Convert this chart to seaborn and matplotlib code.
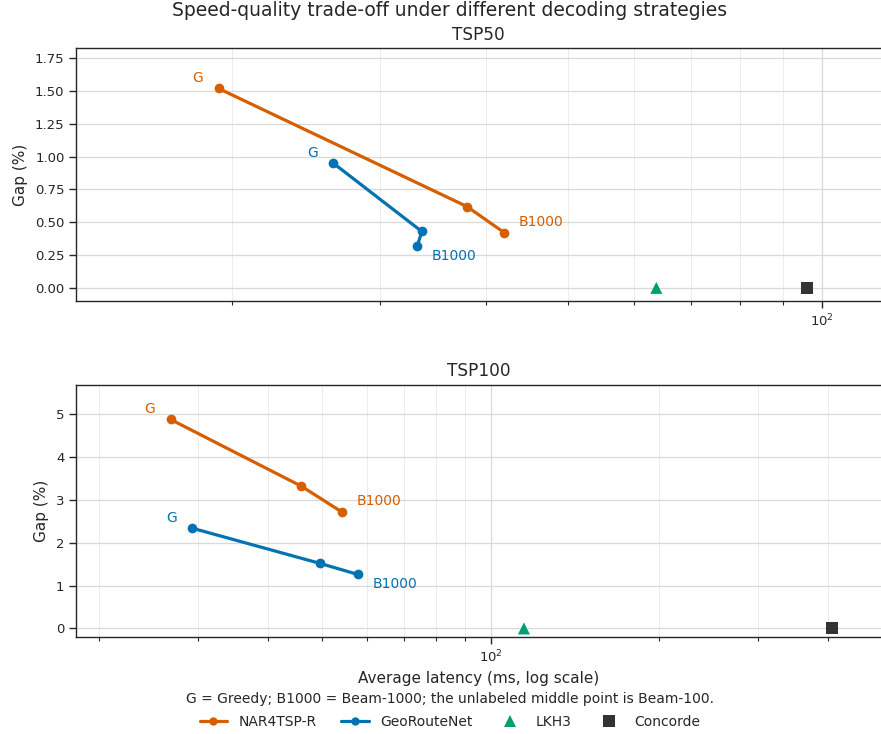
import matplotlib
matplotlib.use('Agg')
import matplotlib.pyplot as plt
import matplotlib.ticker as mticker
from matplotlib.lines import Line2D
import seaborn as sns
import pandas as pd

sns.set_theme(context='paper', style='ticks')
plt.rcParams['font.family'] = ['DejaVu Sans']

# Values (latency in ms, gap in %)
PANELS = ['TSP50', 'TSP100']
DECODES = ['G', 'B100', 'B1000']
MODELS = ['NAR4TSP-R', 'GeoRouteNet']
BASELINES = ['LKH3', 'Concorde']

nar_lat_50 = [19.3, 38.0, 42.1]
nar_gap_50 = [1.52, 0.62, 0.42]
geo_lat_50 = [26.4, 33.6, 33.2]
geo_gap_50 = [0.95, 0.43, 0.32]

nar_lat_100 = [26.8, 45.9, 54.2]
nar_gap_100 = [4.88, 3.32, 2.72]
geo_lat_100 = [29.3, 49.5, 57.9]
geo_gap_100 = [2.34, 1.52, 1.26]

lkh_lat = [63.7, 114.6]        # TSP50, TSP100
concorde_lat = [96.1, 407.0]
exact_gap = [0.0, 0.0]

y_limits = [(-0.1, 1.826), (-0.2, 5.69)]

COLORS = {
    'NAR4TSP-R': '#D55E00',
    'GeoRouteNet': '#0173B2',
    'LKH3': '#029E73',
    'Concorde': '#333333',
}
BASE_MARKERS = {'LKH3': '^', 'Concorde': 's'}

# long-form tables
rows = []
for panel, series in zip(PANELS, [
        {'NAR4TSP-R': (nar_lat_50, nar_gap_50), 'GeoRouteNet': (geo_lat_50, geo_gap_50)},
        {'NAR4TSP-R': (nar_lat_100, nar_gap_100), 'GeoRouteNet': (geo_lat_100, geo_gap_100)}]):
    for model, (lat, gap) in series.items():
        for dec, x, y in zip(DECODES, lat, gap):
            rows.append({'panel': panel, 'model': model, 'decode': dec, 'latency': x, 'gap': y})
curves = pd.DataFrame(rows)

base_rows = []
for i, panel in enumerate(PANELS):
    base_rows.append({'panel': panel, 'method': 'LKH3', 'latency': lkh_lat[i], 'gap': exact_gap[i]})
    base_rows.append({'panel': panel, 'method': 'Concorde', 'latency': concorde_lat[i], 'gap': exact_gap[i]})
baselines = pd.DataFrame(base_rows)

W, H = 881, 734
fig = plt.figure(figsize=(W / 100, H / 100), dpi=100)
ax_boxes = [(76, 48.3, 301), (76, 384.7, 637)]
axes = []
for left, top, bottom in ax_boxes:
    axes.append(fig.add_axes([left / W, 1 - bottom / H, (W + 0.5 - left) / W, (bottom - top) / H]))

for i, (ax, panel) in enumerate(zip(axes, PANELS)):
    sub = curves[curves['panel'] == panel]
    bsub = baselines[baselines['panel'] == panel]

    ax.set_xscale('log')
    ax.grid(True, which='major', color='#d9d9d9', linewidth=0.9)
    ax.grid(True, which='minor', axis='x', color='#ededed', linewidth=0.7)
    ax.set_axisbelow(True)

    sns.lineplot(data=sub, x='latency', y='gap', hue='model', hue_order=MODELS,
                 palette=COLORS, marker='o', markersize=7, markeredgewidth=0,
                 linewidth=2.3, sort=False, estimator=None, legend=False, ax=ax)
    sns.scatterplot(data=bsub, x='latency', y='gap', hue='method', style='method',
                    hue_order=BASELINES, palette=COLORS, markers=BASE_MARKERS,
                    s=75, linewidth=0, legend=False, zorder=3, ax=ax)

    # G / B1000 labels next to the end points
    for model in MODELS:
        pts = sub[sub['model'] == model]
        g = pts[pts['decode'] == 'G'].iloc[0]
        b = pts[pts['decode'] == 'B1000'].iloc[0]
        ax.annotate('G', (g['latency'], g['gap']), xytext=(-11, 4.5),
                    textcoords='offset points', ha='right', va='baseline',
                    fontsize=10, color=COLORS[model])
        dy = 8 if model == 'NAR4TSP-R' else -7
        ax.annotate('B1000', (b['latency'], b['gap']), xytext=(10.5, dy),
                    textcoords='offset points', ha='left', va='center',
                    fontsize=10, color=COLORS[model])

    all_lat = pd.concat([sub['latency'], bsub['latency']])
    ax.set_xlim(all_lat.min() / 1.475, all_lat.max() * 1.225)
    ax.set_ylim(*y_limits[i])
    ax.xaxis.set_minor_formatter(mticker.NullFormatter())
    ax.tick_params(labelsize=9.5)
    ax.set_title(panel, fontsize=12.2)
    ax.set_ylabel('Gap (%)', fontsize=11, labelpad=5)
    ax.set_xlabel('')

axes[1].set_xlabel('Average latency (ms, log scale)', fontsize=11)

fig.text(450 / W, 1 - 16.5 / H, 'Speed-quality trade-off under different decoding strategies',
         ha='center', va='baseline', fontsize=13.5)
fig.text(450 / W, 1 - 699 / H,
         'G = Greedy; B1000 = Beam-1000; the unlabeled middle point is Beam-100.',
         ha='center', va='center', fontsize=10)

handles = [
    Line2D([], [], color=COLORS['NAR4TSP-R'], lw=2.3, marker='o', ms=6, mew=0),
    Line2D([], [], color=COLORS['GeoRouteNet'], lw=2.3, marker='o', ms=6, mew=0),
    Line2D([], [], color=COLORS['LKH3'], ls='none', marker='^', ms=9, mew=0),
    Line2D([], [], color=COLORS['Concorde'], ls='none', marker='s', ms=9, mew=0),
]
fig.legend(handles, MODELS + BASELINES, loc='center', ncol=4, frameon=False,
           fontsize=10, columnspacing=1.75, bbox_to_anchor=(450 / W, 1 - 721.7 / H))

fig.savefig('out.png', dpi=100)
